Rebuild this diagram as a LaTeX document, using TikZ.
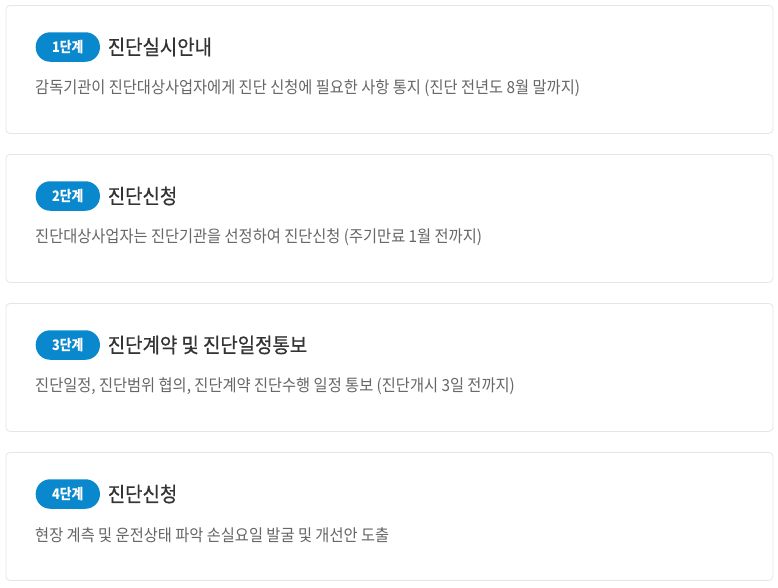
\documentclass[tikz,border=0pt]{standalone}
\usepackage{fontspec}
\setmainfont{Noto Sans CJK KR}[FakeStretch=0.92]
\newfontfamily\titlefont{Noto Sans CJK KR}[FakeStretch=0.92, FakeBold=0.6]
\newfontfamily\badgefont{Noto Sans CJK KR}[FakeStretch=0.88]
\definecolor{badgeblue}{HTML}{0A88CD}
\definecolor{titlegray}{HTML}{333333}
\definecolor{descgray}{HTML}{666666}
\definecolor{cardline}{HTML}{E6E6E6}
\tikzset{
  card/.style={draw=cardline, line width=0.8pt, fill=white, rounded corners=4pt},
  badge/.style={fill=badgeblue, text=white, rounded corners=14.5pt, minimum height=29.5pt, inner xsep=16.5pt, inner ysep=0pt, font=\badgefont\fontsize{14.5}{14}\selectfont\bfseries, anchor=west},
  titletext/.style={text=titlegray, font=\titlefont\fontsize{20.5}{20}\selectfont, anchor=west, inner sep=0pt},
  desctext/.style={text=descgray, font=\fontsize{16.6}{17}\selectfont, anchor=west, inner sep=0pt}
}
\begin{document}
\begin{tikzpicture}[x=1pt,y=-1pt]
\useasboundingbox[fill=white] (0,0) rectangle (778,587);
\foreach \i/\nm/\ttl/\dsc in {
  0/1/진단실시안내/감독기관이 진단대상사업자에게 진단 신청에 필요한 사항 통지 (진단 전년도 8월 말까지),
  1/2/진단신청/진단대상사업자는 진단기관을 선정하여 진단신청 (주기만료 1월 전까지),
  2/3/진단계약 및 진단일정통보/{진단일정, 진단범위 협의, 진단계약 진단수행 일정 통보 (진단개시 3일 전까지)},
  3/4/진단신청/현장 계측 및 운전상태 파악 손실요일 발굴 및 개선안 도출}{
  \pgfmathsetmacro{\ctop}{5+149*\i}
  \node[card, minimum width=767pt, minimum height=128pt, anchor=north west, inner sep=0pt] (card\nm) at (5.5,\ctop) {};
  \node[badge] (badge\nm) at (35.5,\ctop+42) {\nm{}단계};
  \node[titletext] (title\nm) at ([xshift=7.5pt]badge\nm.east) {\ttl};
  \node[desctext] (desc\nm) at (35,\ctop+83.5) {\dsc};
}
\end{tikzpicture}
\end{document}
